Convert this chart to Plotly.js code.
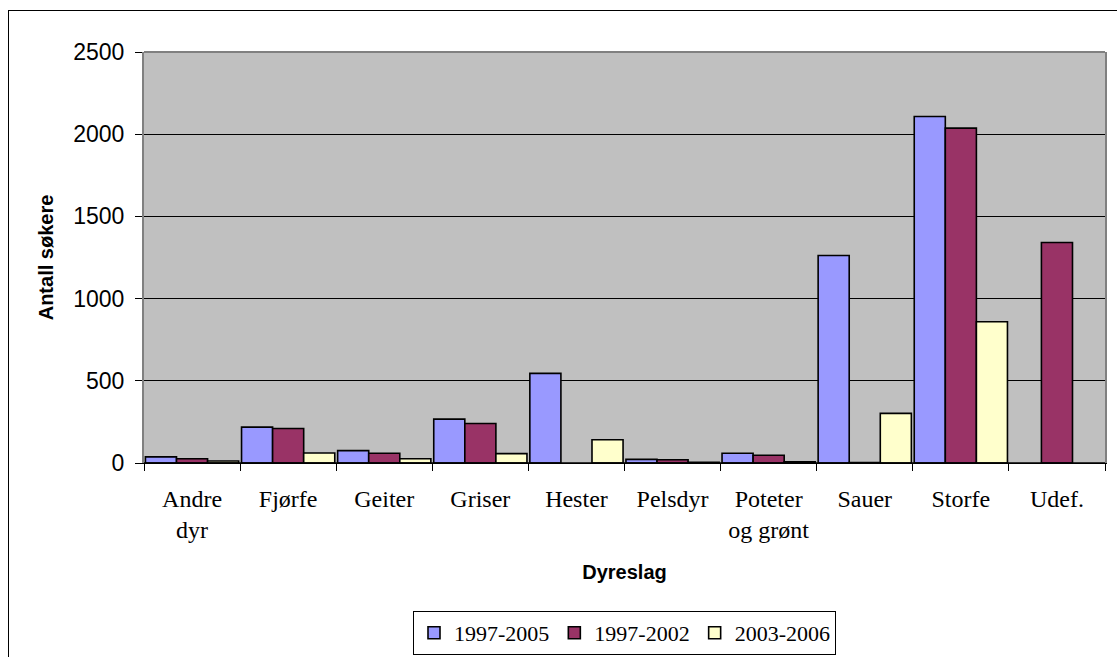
<!DOCTYPE html>
<html>
<head>
<meta charset="utf-8">
<script src="https://cdn.plot.ly/plotly-3.0.1.min.js"></script>
<style>
  html, body { margin: 0; padding: 0; background: #fff; }
  #wrap { position: relative; width: 1117px; height: 657px; overflow: hidden; }
  #chart { width: 1117px; height: 657px; }
  #frame { position: absolute; left: 8px; top: 10px; width: 1200px; height: 700px;
           border-left: 1px solid #000; border-top: 1px solid #000; pointer-events: none; }
</style>
</head>
<body>
<div id="wrap">
  <div id="chart"></div>
  <div id="frame"></div>
</div>
<script>
const categories = ['Andre<br>dyr', 'Fjørfe', 'Geiter', 'Griser', 'Hester', 'Pelsdyr', 'Poteter<br>og grønt', 'Sauer', 'Storfe', 'Udef.'];
const seriesNames = ['1997-2005', '1997-2002', '2003-2006'];
const values1997_2005 = [37, 218, 75, 267, 545, 22, 59, 1262, 2108, null];
const values1997_2002 = [26, 210, 59, 240, null, 20, 47, 2, 2037, 1341];
const values2003_2006 = [12, 61, 26, 57, 141, 4, 8, 302, 859, null];
const colors = ['#9999FF', '#993366', '#FFFFCC'];
const yTicks = [0, 500, 1000, 1500, 2000, 2500];

const allValues = [values1997_2005, values1997_2002, values2003_2006];
const traces = allValues.map((vals, i) => ({
  type: 'bar',
  name: seriesNames[i],
  x: categories,
  y: vals,
  marker: { color: colors[i], line: { color: '#000', width: 1.6 } },
  hoverinfo: 'x+y+name'
}));

const layout = {
  width: 1117,
  height: 657,
  margin: { l: 144, r: 12, t: 52, b: 194 },
  paper_bgcolor: 'rgba(0,0,0,0)',
  plot_bgcolor: '#C0C0C0',
  barmode: 'group',
  bargap: 0.03,
  bargroupgap: 0,
  showlegend: true,
  legend: {
    orientation: 'h',
    xref: 'paper', x: 0.5, xanchor: 'center',
    yref: 'container', y: 0.0700, yanchor: 'top',
    bordercolor: '#000', borderwidth: 1,
    bgcolor: '#fff',
    font: { family: 'Liberation Serif, Times New Roman, serif', size: 22, color: '#000' },
    itemwidth: 30,
    tracegroupgap: 0
  },
  xaxis: {
    type: 'category',
    tickson: 'boundaries',
    ticks: 'outside', ticklen: 7, tickcolor: '#000', tickwidth: 1,
    showgrid: false,
    showline: true, linecolor: '#000', linewidth: 1,
    tickfont: { family: 'Liberation Serif, Times New Roman, serif', size: 24, color: '#000' },
    ticklabelstandoff: 14,
    title: { text: '<b>Dyreslag</b>', font: { family: 'Liberation Sans, Arial, sans-serif', size: 20, color: '#000' }, standoff: 22 },
    automargin: false,
    fixedrange: true
  },
  yaxis: {
    range: [0, 2500],
    tickvals: yTicks,
    ticktext: yTicks.map(String),
    ticks: 'outside', ticklen: 7, tickcolor: '#000', tickwidth: 1,
    showgrid: true, gridcolor: '#000', gridwidth: 1,
    zeroline: false,
    showline: true, linecolor: '#808080', linewidth: 2, mirror: true,
    tickfont: { family: 'Liberation Sans, Arial, sans-serif', size: 23, color: '#000' },
    ticklabelstandoff: 6,
    title: { text: '<b>Antall søkere</b>', font: { family: 'Liberation Sans, Arial, sans-serif', size: 20, color: '#000' }, standoff: 14 },
    automargin: false,
    fixedrange: true
  },
  shapes: [
    { type: 'line', xref: 'paper', yref: 'paper', x0: 0, x1: 1, y0: 1, y1: 1,
      line: { color: '#808080', width: 2 }, layer: 'above' },
    { type: 'line', xref: 'paper', yref: 'paper', x0: 0, x1: 1, y0: 0, y1: 0,
      line: { color: '#000', width: 1.5 }, layer: 'above' }
  ]
};

Plotly.newPlot('chart', traces, layout, { displayModeBar: false, staticPlot: true });
</script>
</body>
</html>
